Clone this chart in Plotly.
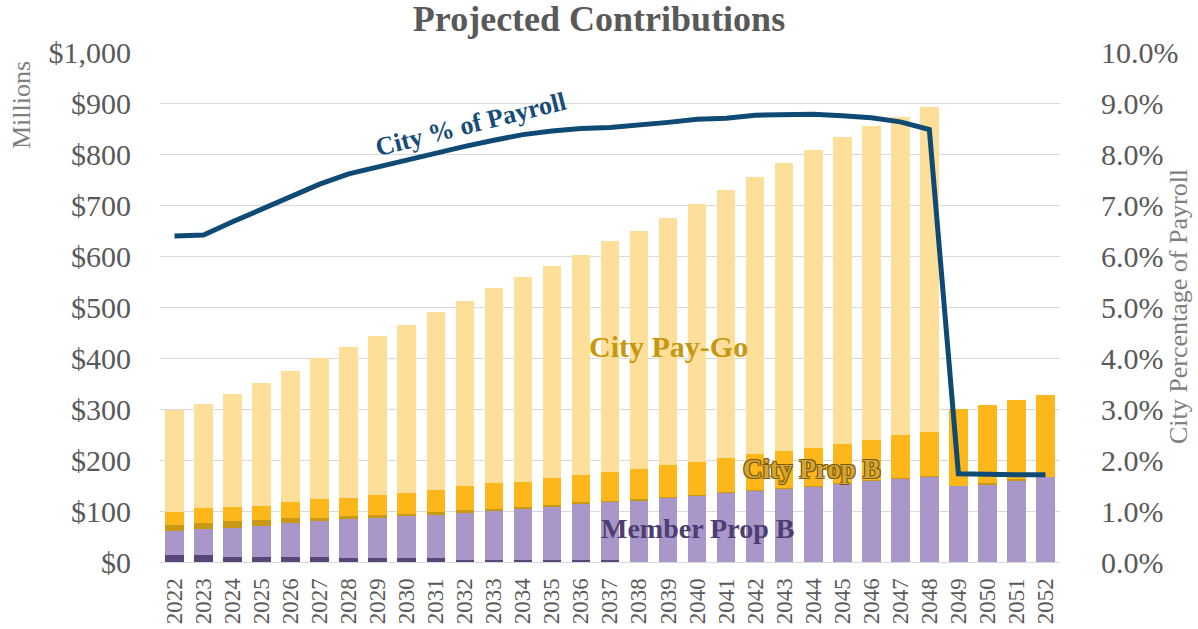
import plotly.graph_objects as go

years = [str(y) for y in range(2022, 2053)]

member_legacy = [13, 13, 10, 10, 10, 10, 7, 7, 7, 7, 4, 4, 4, 4, 4, 3,
                 0, 0, 0, 0, 0, 0, 0, 0, 0, 0, 0, 0, 0, 0, 0]
member_prop_b = [48, 52.5, 57.4, 61, 67, 70, 77, 80, 83, 86, 94, 97.4, 100.7, 104, 111, 115,
                 121.5, 125.5, 130.5, 135.3, 140.6, 144, 148, 153.7, 160, 163.5, 168,
                 148.5, 152, 160, 166.7]
city_legacy = [11, 11, 12.5, 12, 9, 7, 6, 4.6, 5, 5, 3.4, 3.3, 3, 3, 2.5, 2,
               1.5, 1.5, 1.5, 1, 1, 1, 1, 1, 1, 1, 1, 0, 2, 3, 0]
city_prop_b = [26, 28.5, 28, 27.5, 31, 36, 36.4, 40.4, 41, 44, 47, 50, 50, 53, 53, 57,
               59, 62.5, 63.5, 68.4, 70.4, 72, 75, 77.3, 77.6, 84, 86,
               151, 154.6, 154, 160.3]
city_pay_go = [199.5, 205.6, 222, 241.3, 257, 277.8, 295.6, 311.2, 329.5, 348.3, 363.3, 382.3,
               401, 416.5, 432.3, 451.5, 468, 486, 505.5, 524, 542, 564.6, 583, 600.8,
               616.4, 623.5, 637, 0, 0, 0, 0]
city_pct_payroll = [0.0639, 0.0641, 0.0667, 0.0691, 0.0717, 0.0741, 0.0761, 0.0775, 0.0789,
                    0.0802, 0.0815, 0.0827, 0.0838, 0.0845, 0.0850, 0.0852, 0.0856, 0.0862,
                    0.0868, 0.0870, 0.0876, 0.0877, 0.0878, 0.0875, 0.0871, 0.0863, 0.0848,
                    0.0173, 0.0171, 0.0171, 0.0171]

y_ticks = [0, 100, 200, 300, 400, 500, 600, 700, 800, 900, 1000]
y_ticktext = ["$" + format(v, ",") for v in y_ticks]
y2_ticks = [0, 0.01, 0.02, 0.03, 0.04, 0.05, 0.06, 0.07, 0.08, 0.09, 0.10]

SERIF = "Liberation Serif, Times New Roman, serif"

fig = go.Figure()
bar_series = [
    ("Member Legacy", member_legacy, "#574677"),
    ("Member Prop B", member_prop_b, "#A897C8"),
    ("City Legacy", city_legacy, "#C99815"),
    ("City Prop B", city_prop_b, "#FDB71A"),
    ("City Pay-Go", city_pay_go, "#FDDF9A"),
]
for name, vals, col in bar_series:
    fig.add_trace(go.Bar(x=years, y=vals, name=name, marker=dict(color=col, line=dict(width=0)),
                         yaxis="y"))

fig.add_trace(go.Scatter(x=years, y=city_pct_payroll, name="City % of Payroll", mode="lines",
                         line=dict(color="#0F4A74", width=5), yaxis="y2"))

L, R, T, B = 160, 138, 52, 67
W, H = 1198, 629
pw, ph = W - L - R, H - T - B


def px(xp):
    return (xp - L) / pw


def py(yp):
    return (H - B - yp) / ph


annotations = [
    dict(text="<b>City % of Payroll</b>", x=px(470), y=py(124), textangle=-14,
         font=dict(family=SERIF, size=26, color="#154C79")),
    dict(text="<b>City Pay-Go</b>", x=px(668), y=py(347),
         font=dict(family=SERIF, size=30, color="#C9960F")),
    dict(text="<b>City Prop B</b>", x=px(812), y=py(469),
         font=dict(family=SERIF, size=27, color="#D2A534",
                   shadow="-1px -1px 0 #7A5A10, 1px -1px 0 #7A5A10, -1px 1px 0 #7A5A10, 1px 1px 0 #7A5A10")),
    dict(text="<b>Member Prop B</b>", x=px(697), y=py(528),
         font=dict(family=SERIF, size=28, color="#4E3D70")),
    dict(text="Millions", x=px(22), y=py(105), textangle=-90,
         font=dict(family=SERIF, size=26, color="#7F7F7F")),
    dict(text="City Percentage of Payroll", x=px(1178), y=py(307), textangle=-90,
         font=dict(family=SERIF, size=26, color="#7F7F7F")),
]
for a in annotations:
    a.update(xref="paper", yref="paper", showarrow=False, xanchor="center", yanchor="middle")

fig.update_layout(
    width=W, height=H,
    margin=dict(l=L, r=R, t=T, b=B, autoexpand=False),
    paper_bgcolor="white", plot_bgcolor="white",
    barmode="stack", bargap=0.36,
    showlegend=False,
    title=dict(text="<b>Projected Contributions</b>", x=0.5, xref="container", xanchor="center",
               y=1 - 18 / H, yref="container", yanchor="middle",
               font=dict(family=SERIF, size=36, color="#595959")),
    xaxis=dict(type="category", tickangle=-90, showgrid=False, ticks="",
               tickfont=dict(family=SERIF, size=23, color="#595959"),
               showline=True, linecolor="#D9D9D9", linewidth=1, ticklabelstandoff=6,
               automargin=False),
    yaxis=dict(range=[0, 1000], tickvals=y_ticks, ticktext=y_ticktext,
               showgrid=True, gridcolor="#D9D9D9", gridwidth=1, zeroline=False, ticks="",
               tickfont=dict(family=SERIF, size=30, color="#595959"), ticklabelstandoff=28,
               automargin=False),
    yaxis2=dict(range=[0, 0.10], tickvals=y2_ticks, tickformat=".1%", overlaying="y", side="right",
                showgrid=False, zeroline=False, ticks="",
                tickfont=dict(family=SERIF, size=30, color="#595959"), ticklabelstandoff=40,
                automargin=False),
    annotations=annotations,
)

fig.write_html("out.html", config={"displayModeBar": False},
               post_script="document.body.style.margin='0';document.body.style.overflow='hidden';")
